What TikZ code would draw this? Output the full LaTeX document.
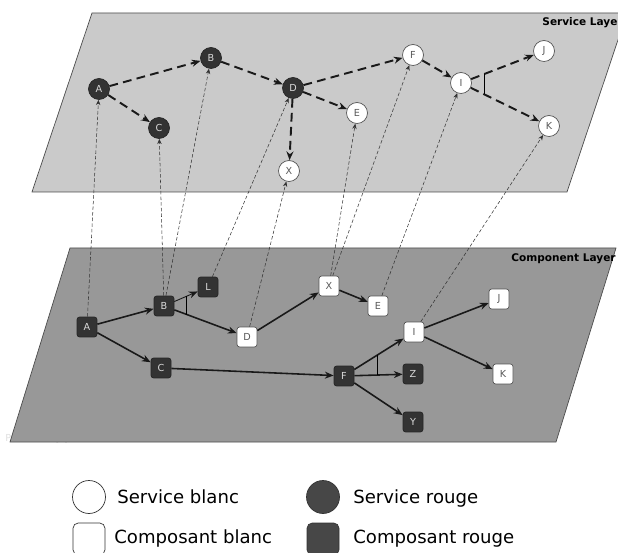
\documentclass[tikz,border=0pt]{standalone}
\usepackage{fontspec}
\setmainfont{DejaVu Sans}
\usetikzlibrary{arrows.meta}
\definecolor{planetop}{HTML}{CACACA}
\definecolor{planebot}{HTML}{989898}
\definecolor{rouge}{HTML}{333333}
\definecolor{edgegray}{HTML}{555555}
\begin{document}
\begin{tikzpicture}[x=0.02cm,y=-0.02cm,
  svc/.style={circle,draw=edgegray,line width=0.4pt,minimum size=0.42cm,inner sep=0pt,font=\fontsize{5.5}{6}\selectfont},
  svcw/.style={svc,fill=white,text=black!65},
  svcr/.style={svc,fill=rouge,draw=black!85,text=black!15},
  cmp/.style={rectangle,rounded corners=1.5pt,draw=edgegray,line width=0.4pt,minimum size=0.4cm,inner sep=0pt,font=\fontsize{5.5}{6}\selectfont},
  cmpw/.style={cmp,fill=white,text=black!65},
  cmpr/.style={cmp,fill=rouge,draw=black!85,text=black!15},
  flow/.style={-{Stealth[length=5pt,width=4pt]},line width=1.1pt,dash pattern=on 5pt off 3pt,black!90},
  call/.style={-{Stealth[length=5pt,width=4pt]},line width=0.9pt,black!90},
  link/.style={-{Stealth[length=3pt,width=2.5pt]},line width=0.3pt,dash pattern=on 2pt off 1.2pt,black!80},
  layer/.style={anchor=base east,inner sep=0pt,font=\bfseries\fontsize{6}{7}\selectfont},
  legend/.style={anchor=base west,inner sep=0pt,font=\fontsize{10.3}{12}\selectfont}]
\useasboundingbox (0,0) rectangle (618,553);

\node[anchor=base west,inner sep=0pt,text=black!12,font=\fontsize{5.5}{6}\selectfont] (yfiles) at (5,441) {Powered by yFiles};

\path[draw=black!70,fill=planetop] (92,13) -- (627,13) -- (567,192) -- (32,192) -- cycle;
\path[draw=black!70,fill=planebot] (70,248) -- (616,248) -- (556,442) -- (10,442) -- cycle;
\node[layer] (slayer) at (623,26) {Service Layer};
\node[layer] (clayer) at (616,262) {Component Layer};

\node[svcr] (sA) at (99,89) {A};
\node[svcr] (sB) at (211,58) {B};
\node[svcr] (sC) at (159,128) {C};
\node[svcr] (sD) at (293,88) {D};
\node[svcw] (sX) at (289,171) {X};
\node[svcw] (sE) at (357,113) {E};
\node[svcw] (sF) at (413,55) {F};
\node[svcw] (sI) at (461,83) {I};
\node[svcw] (sJ) at (544,51) {J};
\node[svcw] (sK) at (549,126) {K};

\draw[flow] (sA) to (sB);
\draw[flow] (sA) to (sC);
\draw[flow] (sB) to (sD);
\draw[flow] (sD) to (sF);
\draw[flow] (sD) to (sE);
\draw[flow] (sD) to (sX);
\draw[flow] (sF) to (sI);
\draw[flow] (sI) to coordinate[pos=0.21] (ij) (sJ);
\draw[flow] (sI) to coordinate[pos=0.2] (ik) (sK);
\draw[line width=0.5pt] (ij) -- (ij |- ik);

\node[cmpr] (cA) at (87,327) {A};
\node[cmpr] (cB) at (164,306) {B};
\node[cmpr] (cL) at (208,287) {L};
\node[cmpw] (cD) at (247,337) {D};
\node[cmpr] (cC) at (161,368) {C};
\node[cmpw] (cX) at (329,286) {X};
\node[cmpw] (cE) at (378,306) {E};
\node[cmpw] (cI) at (414,332) {I};
\node[cmpw] (cJ) at (499,299) {J};
\node[cmpw] (cK) at (503,374) {K};
\node[cmpr] (cF) at (344,376) {F};
\node[cmpr] (cZ) at (413,374) {Z};
\node[cmpr] (cY) at (413,422) {Y};

\draw[call] (cA) to (cB);
\draw[call] (cA) to (cC);
\draw[call,line width=0.5pt] (cB) to coordinate[pos=0.54] (bl) (cL);
\draw[call] (cB) to coordinate[pos=0.2] (bd) (cD);
\draw[line width=0.5pt] (bl) -- (bl |- bd);
\draw[call] (cD) to (cX);
\draw[call] (cX) to (cE);
\draw[call] (cC) to (cF);
\draw[call] (cF) to coordinate[pos=0.46] (fi) (cI);
\draw[call] (cF) to coordinate[pos=0.33] (fz) (cZ);
\draw[line width=0.5pt] (fi) -- (fi |- fz);
\draw[call] (cF) to (cY);
\draw[call] (cI) to (cJ);
\draw[call] (cI) to (cK);

\draw[link] (cA) to (sA);
\draw[link] (cB) to (sC);
\draw[link] (cB) to (sB);
\draw[link] (cL) to (sD);
\draw[link] (cD) to (sX);
\draw[link] (cX) to (sE);
\draw[link] (cX) to (sF);
\draw[link] (cE) to (sI);
\draw[link] (cI) to (sK);

\node[circle,draw=black!80,fill=white,minimum size=0.66cm,inner sep=0pt] (lsw) at (89,497) {};
\node[legend] (tsw) at (117,503) {Service blanc};
\node[circle,draw=black!80,fill=rouge!90!white,minimum size=0.66cm,inner sep=0pt] (lsr) at (323,497) {};
\node[legend] (tsr) at (353,503) {Service rouge};
\node[rectangle,rounded corners=3pt,draw=black!80,fill=white,minimum size=0.64cm,inner sep=0pt] (lcw) at (89,539) {};
\node[legend] (tcw) at (114,543) {Composant blanc};
\node[rectangle,rounded corners=3pt,draw=black!80,fill=rouge!90!white,minimum size=0.64cm,inner sep=0pt] (lcr) at (323,539) {};
\node[legend] (tcr) at (353,543) {Composant rouge};
\end{tikzpicture}
\end{document}
